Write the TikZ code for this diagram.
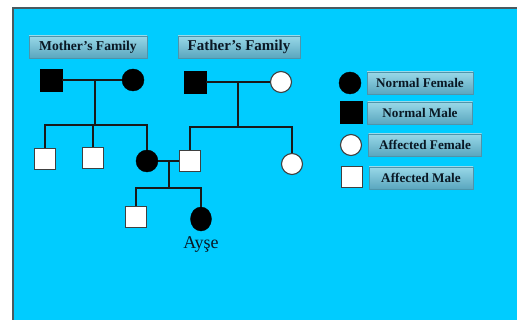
\documentclass[tikz,border=0pt]{standalone}
\usepackage{fontspec}
\setmainfont{Liberation Serif}
\usetikzlibrary{positioning}
\usetikzlibrary{shapes.geometric}
\definecolor{skyback}{HTML}{00CCFF}
\definecolor{frameedge}{HTML}{4A5A60}
\definecolor{tagtop}{HTML}{98D8E8}
\definecolor{tagbot}{HTML}{5AA6BE}
\definecolor{tagedge}{HTML}{4E94AA}
\definecolor{tagtext}{HTML}{0A1824}
\tikzset{
  normalmale/.style={rectangle,draw=black,fill=black,minimum size=22pt,inner sep=0pt},
  normalfemale/.style={circle,draw=black,fill=black,minimum size=22pt,inner sep=0pt},
  affmale/.style={rectangle,draw=black!75,fill=white,line width=1.1pt,minimum size=21pt,inner sep=0pt},
  afffemale/.style={circle,draw=black!75,fill=white,line width=1.1pt,minimum size=21pt,inner sep=0pt},
  tag/.style={rectangle,top color=tagtop,bottom color=tagbot,draw=tagedge,line width=0.5pt,
    minimum height=22pt,inner sep=0pt,text=tagtext,font=\bfseries\fontsize{13.2}{15}\selectfont},
  link/.style={draw=black!90,line width=1.4pt}
}
\begin{document}
\begin{tikzpicture}[x=1pt,y=-1pt]
\useasboundingbox (0,0) rectangle (517,320);
\fill[white] (0,0) rectangle (517,320);
\draw[fill=skyback,draw=frameedge,line width=1.6pt] (12.8,7.8) rectangle (530,335);

\node[tag,minimum width=118pt,font=\bfseries\fontsize{13.6}{15}\selectfont] (mothertag) at (88,47) {Mother’s Family};
\node[tag,minimum width=122pt,font=\bfseries\fontsize{15}{17}\selectfont] (fathertag) at (239,47) {Father’s Family};

\node[normalmale] (mgf) at (51,80) {};
\node[normalfemale] (mgm) at (133,80) {};
\node[normalmale] (fgf) at (195,82) {};
\node[afffemale] (fgm) at (281,82) {};

\node[affmale] (uncle1) at (45,159) {};
\node[affmale] (uncle2) at (93,158) {};
\node[normalfemale] (mother) at (147,161) {};
\node[affmale] (father) at (190,161) {};
\node[afffemale] (aunt) at (292,164) {};

\node[affmale] (brother) at (136,217) {};
\node[ellipse,draw=black,fill=black,minimum width=21pt,minimum height=24pt,inner sep=0pt] (ayse) at (201,219) {};
\node[font=\fontsize{18}{20}\selectfont,text=tagtext] (aysename) at (201,245) {Ayşe};

\coordinate (mmid) at (95,80);
\coordinate (mbar) at (95,125);
\coordinate (fmid) at (238,82);
\coordinate (fbar) at (238,127);
\coordinate (pmid) at (169,162);
\coordinate (pbar) at (169,188);

\draw[link] (mgf) -- (mgm);
\draw[link] (mmid) -- (mbar);
\draw[link] (uncle1.north) |- (mbar) -| (mother.north);
\draw[link] (uncle2.north) -- (uncle2.north |- mbar);

\draw[link] (fgf) -- (fgm);
\draw[link] (fmid) -- (fbar);
\draw[link] (father.north) |- (fbar) -| (aunt.north);

\draw[link] (mother) -- (father);
\draw[link] (pmid) -- (pbar);
\draw[link] (brother.north) |- (pbar) -| (ayse.north);

\node[normalfemale] (keynf) at (350,83) {};
\node[tag,minimum width=106pt] (keynftag) at (420,83) {Normal Female};
\node[normalmale] (keynm) at (351,112) {};
\node[tag,minimum width=105pt] (keynmtag) at (420,113) {Normal Male};
\node[afffemale] (keyaf) at (351,145) {};
\node[tag,minimum width=113pt] (keyaftag) at (425,145) {Affected Female};
\node[affmale] (keyam) at (352,177) {};
\node[tag,minimum width=104pt] (keyamtag) at (421,178) {Affected Male};
\end{tikzpicture}
\end{document}
